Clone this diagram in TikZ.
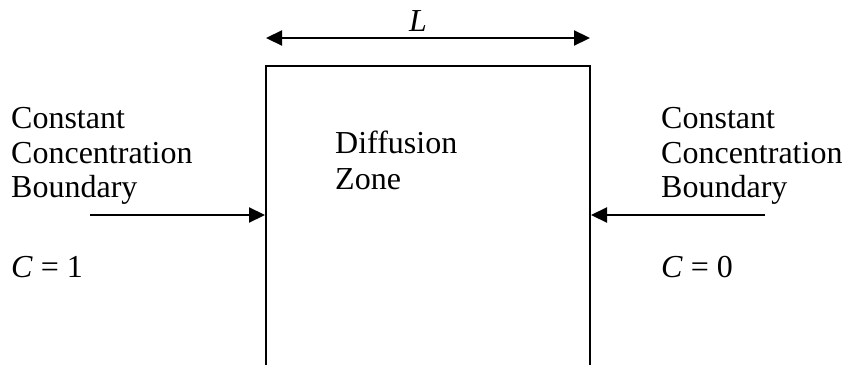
\documentclass[tikz,border=0pt]{standalone}
\usepackage{fontspec}
\setmainfont{Liberation Serif}
\usetikzlibrary{arrows.meta}
\begin{document}
\begin{tikzpicture}[x=1pt,y=-1pt,
  lbl/.style={anchor=base west,inner sep=0pt,font=\fontsize{32}{36}\selectfont},
  wall/.style={line width=2.4pt,line cap=rect},
  arr/.style={line width=2.2pt,-{Triangle[length=16pt,width=15pt]}},
  dimarr/.style={line width=2.2pt,{Triangle[length=16pt,width=15pt]}-{Triangle[length=16pt,width=15pt]}}]
\useasboundingbox (0,0) rectangle (842,364);
% box (open at the bottom)
\coordinate (bl) at (266,370);
\coordinate (tl) at (266,66);
\coordinate (tr) at (590,66);
\coordinate (br) at (590,370);
\draw[wall] (bl) -- (tl) -- (tr) -- (br);
% dimension arrow
\coordinate (dl) at (266,38);
\coordinate (dr) at (590,38);
\draw[dimarr] (dl) -- (dr);
\node[lbl] (L) at (409,31) {\textit{L}};
% left side
\node[lbl] (lc1) at (11,128) {Constant};
\node[lbl] (lc2) at (11,163) {Concentration};
\node[lbl] (lc3) at (11,197) {Boundary};
\node[lbl] (lc4) at (11,277) {\textit{C} = 1};
\coordinate (la) at (90,215);
\coordinate (lt) at (265,215);
\draw[arr] (la) -- (lt);
% right side
\node[lbl] (rc1) at (661,128) {Constant};
\node[lbl] (rc2) at (661,163) {Concentration};
\node[lbl] (rc3) at (661,197) {Boundary};
\node[lbl] (rc4) at (661,277) {\textit{C} = 0};
\coordinate (ra) at (765,215);
\coordinate (rt) at (591,215);
\draw[arr] (ra) -- (rt);
% centre
\node[lbl] (d1) at (335,153) {Diffusion};
\node[lbl] (d2) at (335,189) {Zone};
\end{tikzpicture}
\end{document}
